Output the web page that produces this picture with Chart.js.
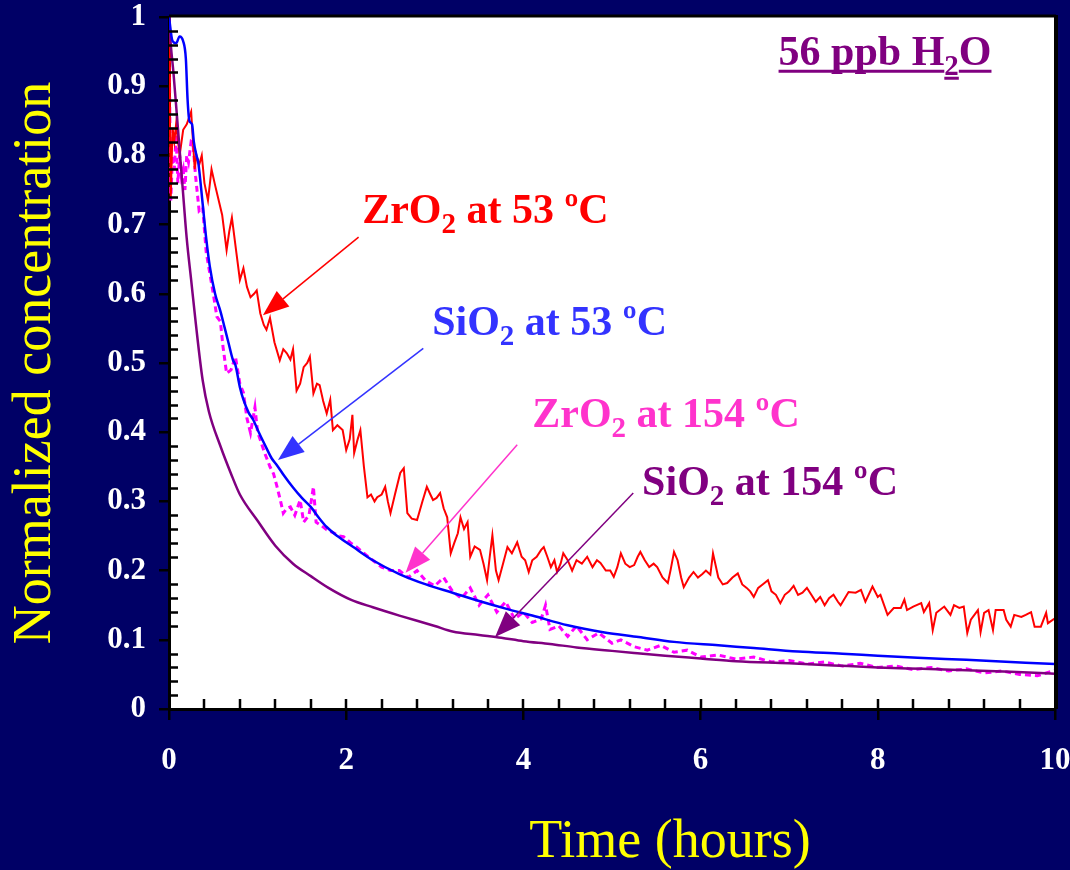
<!DOCTYPE html>
<html>
<head>
<meta charset="utf-8">
<script src="https://cdn.jsdelivr.net/npm/chart.js@4.4.1/dist/chart.umd.min.js"></script>
<style>
  html, body { margin: 0; padding: 0; background: #000066; }
  #wrap { width: 1070px; height: 870px; }
</style>
</head>
<body>
<div id="wrap"><canvas id="chart" width="1070" height="870"></canvas></div>
<script>
// Desorption curves, 56 ppb H2O
const SERIF = '"Liberation Serif", "Times New Roman", serif';

// x axis ticks (hours) and y axis ticks
const xTicks = [0, 2, 4, 6, 8, 10];
const yTicks = [0, 0.1, 0.2, 0.3, 0.4, 0.5, 0.6, 0.7, 0.8, 0.9, 1];

// SiO2 at 53 ºC (blue)
const timeSi53 = [0, 0.04, 0.08, 0.12, 0.16, 0.19, 0.21, 0.23, 0.26, 0.28, 0.31, 0.33, 0.38, 0.42, 0.46, 0.52, 0.58, 0.63, 0.67, 0.72, 0.75, 0.8, 0.84, 0.9, 0.95, 1.02, 1.1, 1.16, 1.22, 1.3, 1.4, 1.5, 1.6, 1.7, 1.78, 1.9, 2.08, 2.3, 2.6, 2.9, 3.2, 3.5, 3.8, 4.1, 4.5, 4.9, 5.3, 5.7, 6.2, 6.6, 7.1, 7.6, 8.0, 8.45, 9.0, 9.5, 10];
const valSi53 = [1.0, 0.965, 0.962, 0.972, 0.965, 0.94, 0.88, 0.85, 0.845, 0.82, 0.80, 0.79, 0.73, 0.68, 0.64, 0.60, 0.575, 0.55, 0.53, 0.505, 0.497, 0.465, 0.447, 0.428, 0.418, 0.398, 0.377, 0.362, 0.352, 0.337, 0.32, 0.305, 0.292, 0.275, 0.263, 0.25, 0.234, 0.215, 0.195, 0.18, 0.168, 0.156, 0.145, 0.135, 0.121, 0.111, 0.104, 0.097, 0.092, 0.088, 0.083, 0.08, 0.077, 0.074, 0.071, 0.068, 0.065];

// SiO2 at 154 ºC (purple)
const timeSi154 = [0, 0.02, 0.05, 0.1, 0.15, 0.2, 0.25, 0.3, 0.38, 0.45, 0.58, 0.7, 0.8, 1.0, 1.2, 1.4, 1.6, 1.8, 2.05, 2.3, 2.6, 3.0, 3.2, 3.5, 3.75, 4.0, 4.3, 4.6, 5.0, 5.25, 5.6, 6.0, 6.4, 7.0, 7.5, 8.0, 8.5, 9.0, 9.5, 10];
const valSi154 = [1.0, 0.96, 0.92, 0.84, 0.76, 0.68, 0.62, 0.56, 0.475, 0.43, 0.38, 0.34, 0.31, 0.272, 0.236, 0.21, 0.192, 0.175, 0.158, 0.147, 0.135, 0.12, 0.112, 0.107, 0.103, 0.098, 0.094, 0.089, 0.084, 0.081, 0.077, 0.073, 0.069, 0.066, 0.063, 0.06, 0.058, 0.056, 0.054, 0.051];

// ZrO2 at 53 ºC (red)
const timeZr53 = [0, 0.01, 0.02, 0.04, 0.06, 0.08, 0.12, 0.16, 0.2, 0.25, 0.29, 0.31, 0.34, 0.37, 0.4, 0.44, 0.48, 0.52, 0.57, 0.6, 0.65, 0.68, 0.71, 0.76, 0.8, 0.84, 0.88, 0.92, 0.96, 0.99, 1.03, 1.07, 1.1, 1.14, 1.19, 1.25, 1.29, 1.33, 1.37, 1.4, 1.44, 1.48, 1.52, 1.56, 1.59, 1.63, 1.67, 1.7, 1.74, 1.78, 1.82, 1.85, 1.9, 1.96, 2.0, 2.04, 2.07, 2.09, 2.13, 2.16, 2.2, 2.24, 2.28, 2.32, 2.35, 2.4, 2.44, 2.47, 2.5, 2.55, 2.61, 2.65, 2.69, 2.74, 2.8, 2.86, 2.91, 2.95, 2.98, 3.02, 3.06, 3.1, 3.14, 3.18, 3.22, 3.26, 3.29, 3.33, 3.37, 3.4, 3.45, 3.51, 3.55, 3.59, 3.62, 3.65, 3.69, 3.72, 3.77, 3.82, 3.87, 3.93, 3.98, 4.02, 4.06, 4.1, 4.15, 4.2, 4.23, 4.27, 4.31, 4.35, 4.38, 4.42, 4.45, 4.5, 4.55, 4.6, 4.66, 4.72, 4.78, 4.83, 4.87, 4.93, 4.98, 5.02, 5.06, 5.1, 5.15, 5.2, 5.25, 5.29, 5.32, 5.37, 5.42, 5.47, 5.51, 5.57, 5.63, 5.66, 5.7, 5.74, 5.78, 5.81, 5.87, 5.92, 5.97, 6.02, 6.06, 6.11, 6.14, 6.2, 6.25, 6.3, 6.36, 6.42, 6.47, 6.52, 6.56, 6.6, 6.65, 6.7, 6.76, 6.8, 6.85, 6.9, 6.95, 7.0, 7.05, 7.1, 7.15, 7.2, 7.25, 7.3, 7.35, 7.4, 7.45, 7.5, 7.55, 7.58, 7.67, 7.75, 7.81, 7.86, 7.94, 8.0, 8.03, 8.11, 8.18, 8.26, 8.3, 8.33, 8.4, 8.49, 8.52, 8.58, 8.62, 8.66, 8.75, 8.82, 8.86, 8.92, 8.97, 9.01, 9.05, 9.13, 9.16, 9.2, 9.25, 9.3, 9.33, 9.42, 9.45, 9.5, 9.54, 9.62, 9.67, 9.73, 9.77, 9.84, 9.9, 9.92, 10];
const valZr53 = [1.0, 0.85, 0.74, 0.84, 0.82, 0.845, 0.80, 0.837, 0.845, 0.863, 0.78, 0.80, 0.786, 0.80, 0.76, 0.735, 0.78, 0.757, 0.73, 0.714, 0.663, 0.69, 0.71, 0.66, 0.62, 0.637, 0.61, 0.595, 0.60, 0.605, 0.572, 0.555, 0.548, 0.565, 0.53, 0.504, 0.52, 0.514, 0.505, 0.52, 0.46, 0.47, 0.494, 0.50, 0.509, 0.456, 0.47, 0.468, 0.445, 0.427, 0.447, 0.403, 0.41, 0.403, 0.374, 0.39, 0.425, 0.37, 0.39, 0.403, 0.35, 0.306, 0.31, 0.30, 0.306, 0.31, 0.321, 0.30, 0.283, 0.31, 0.341, 0.348, 0.283, 0.275, 0.273, 0.30, 0.321, 0.31, 0.302, 0.305, 0.312, 0.29, 0.277, 0.225, 0.24, 0.254, 0.277, 0.26, 0.27, 0.22, 0.235, 0.23, 0.21, 0.186, 0.22, 0.251, 0.20, 0.186, 0.21, 0.234, 0.225, 0.241, 0.22, 0.215, 0.198, 0.215, 0.22, 0.23, 0.234, 0.22, 0.205, 0.215, 0.198, 0.21, 0.225, 0.215, 0.20, 0.215, 0.21, 0.22, 0.205, 0.215, 0.211, 0.20, 0.20, 0.191, 0.205, 0.225, 0.21, 0.205, 0.208, 0.22, 0.227, 0.215, 0.205, 0.21, 0.205, 0.19, 0.182, 0.20, 0.227, 0.215, 0.19, 0.176, 0.19, 0.198, 0.19, 0.195, 0.20, 0.194, 0.225, 0.19, 0.18, 0.182, 0.19, 0.196, 0.18, 0.175, 0.17, 0.162, 0.175, 0.18, 0.186, 0.17, 0.165, 0.153, 0.165, 0.17, 0.178, 0.165, 0.168, 0.175, 0.165, 0.155, 0.162, 0.15, 0.16, 0.165, 0.155, 0.15, 0.169, 0.168, 0.172, 0.155, 0.177, 0.162, 0.165, 0.136, 0.146, 0.146, 0.158, 0.143, 0.148, 0.153, 0.14, 0.153, 0.114, 0.139, 0.148, 0.136, 0.15, 0.146, 0.148, 0.11, 0.129, 0.143, 0.111, 0.139, 0.143, 0.114, 0.143, 0.143, 0.129, 0.119, 0.136, 0.133, 0.136, 0.14, 0.119, 0.119, 0.139, 0.124, 0.131];

// ZrO2 at 154 ºC (magenta, dashed)
const timeZr154 = [0, 0.01, 0.02, 0.04, 0.06, 0.08, 0.1, 0.12, 0.14, 0.16, 0.18, 0.2, 0.22, 0.25, 0.27, 0.3, 0.34, 0.38, 0.42, 0.46, 0.5, 0.54, 0.58, 0.61, 0.65, 0.7, 0.75, 0.8, 0.84, 0.88, 0.92, 0.97, 1.0, 1.03, 1.08, 1.14, 1.18, 1.22, 1.26, 1.29, 1.33, 1.37, 1.42, 1.48, 1.52, 1.58, 1.63, 1.66, 1.72, 1.78, 1.85, 1.92, 1.97, 2.05, 2.12, 2.2, 2.3, 2.4, 2.5, 2.6, 2.7, 2.8, 2.9, 3.0, 3.1, 3.2, 3.3, 3.4, 3.5, 3.6, 3.7, 3.8, 3.9, 4.0, 4.1, 4.2, 4.25, 4.3, 4.4, 4.5, 4.6, 4.72, 4.85, 5.0, 5.1, 5.25, 5.4, 5.55, 5.7, 5.85, 6.0, 6.2, 6.4, 6.6, 6.8, 7.0, 7.2, 7.4, 7.6, 7.8, 8.0, 8.2, 8.4, 8.6, 8.8, 9.0, 9.2, 9.4, 9.6, 9.8, 10];
const valZr154 = [1.0, 0.85, 0.735, 0.80, 0.78, 0.83, 0.76, 0.80, 0.77, 0.78, 0.75, 0.80, 0.79, 0.82, 0.818, 0.77, 0.72, 0.725, 0.66, 0.63, 0.60, 0.567, 0.56, 0.523, 0.485, 0.49, 0.509, 0.47, 0.457, 0.42, 0.399, 0.436, 0.40, 0.389, 0.37, 0.35, 0.34, 0.321, 0.30, 0.283, 0.29, 0.292, 0.28, 0.302, 0.27, 0.28, 0.321, 0.27, 0.265, 0.259, 0.255, 0.25, 0.249, 0.24, 0.234, 0.225, 0.215, 0.205, 0.20, 0.20, 0.19, 0.20, 0.185, 0.178, 0.19, 0.17, 0.16, 0.175, 0.15, 0.165, 0.14, 0.155, 0.13, 0.14, 0.125, 0.13, 0.15, 0.115, 0.12, 0.105, 0.12, 0.10, 0.11, 0.095, 0.10, 0.09, 0.085, 0.092, 0.082, 0.085, 0.075, 0.078, 0.072, 0.075, 0.068, 0.07, 0.065, 0.068, 0.062, 0.066, 0.06, 0.062, 0.057, 0.06, 0.055, 0.058, 0.052, 0.055, 0.05, 0.048, 0.056];

// annotation text with subscript parts: [text, isSubscript]
const notes = [
  { parts: [['ZrO', 0], ['2', 1], [' at 53 ºC', 0]], color: '#FF0000', at: [2.18, 0.702] },
  { parts: [['SiO', 0], ['2', 1], [' at 53 ºC', 0]], color: '#3333FF', at: [2.97, 0.540] },
  { parts: [['ZrO', 0], ['2', 1], [' at 154 ºC', 0]], color: '#FF33CC', at: [4.10, 0.407] },
  { parts: [['SiO', 0], ['2', 1], [' at 154 ºC', 0]], color: '#800080', at: [5.34, 0.309] },
  { parts: [['56 ppb H', 0], ['2', 1], ['O', 0]], color: '#800080', at: [6.88, 0.931], underline: true }
];
const arrows = [
  { from: [2.14, 0.682], to: [1.06, 0.569], color: '#FF0000' },
  { from: [2.87, 0.521], to: [1.23, 0.360], color: '#3333FF' },
  { from: [3.93, 0.382], to: [2.67, 0.197], color: '#FF33CC' },
  { from: [5.24, 0.312], to: [3.68, 0.104], color: '#800080' }
];
const xTitle = 'Time (hours)';

function zip(xs, ys) {
  return xs.map((x, i) => ({ x: x, y: ys[i] }));
}

function drawParts(ctx, parts, x, y, color, underline) {
  let cx = x;
  ctx.fillStyle = color;
  ctx.textAlign = 'left';
  ctx.textBaseline = 'alphabetic';
  parts.forEach(([t, sub]) => {
    ctx.font = (sub ? 'bold 29px ' : 'bold 42px ') + SERIF;
    const dy = sub ? 10 : 0;
    ctx.fillText(t, cx, y + dy);
    const w = ctx.measureText(t).width;
    if (underline) ctx.fillRect(cx, y + dy + (sub ? 2 : 5), w, 3);
    cx += w;
  });
}

function drawArrow(ctx, x1, y1, x2, y2, color) {
  const ang = Math.atan2(y2 - y1, x2 - x1);
  const len = 26, half = 10;
  const bx = x2 - len * Math.cos(ang), by = y2 - len * Math.sin(ang);
  ctx.strokeStyle = color;
  ctx.fillStyle = color;
  ctx.lineWidth = 1.5;
  ctx.beginPath();
  ctx.moveTo(x1, y1);
  ctx.lineTo(bx, by);
  ctx.stroke();
  ctx.beginPath();
  ctx.moveTo(x2, y2);
  ctx.lineTo(bx + half * Math.sin(ang), by - half * Math.cos(ang));
  ctx.lineTo(bx - half * Math.sin(ang), by + half * Math.cos(ang));
  ctx.closePath();
  ctx.fill();
}

const framePlugin = {
  id: 'frame',
  beforeDraw(chart) {
    const { ctx, chartArea: a } = chart;
    ctx.save();
    ctx.fillStyle = '#000066';
    ctx.fillRect(0, 0, chart.width, chart.height);
    ctx.fillStyle = '#FFFFFF';
    ctx.fillRect(a.left, a.top, a.right - a.left, a.bottom - a.top);
    ctx.restore();
  },
  afterDraw(chart) {
    const { ctx, chartArea: a, scales } = chart;
    const xs = scales.x, ys = scales.y;
    ctx.save();
    // top and right frame
    ctx.strokeStyle = '#000000';
    ctx.fillStyle = '#000000';
    ctx.lineWidth = 3;
    ctx.beginPath();
    ctx.moveTo(a.left, a.top - 1);
    ctx.lineTo(a.right + 1, a.top - 1);
    ctx.stroke();
    ctx.fillRect(a.right - 1, a.top - 2, 4, a.bottom - a.top + 2);
    // minor ticks, inside
    ctx.lineWidth = 2.5;
    ctx.beginPath();
    for (let i = 1; i < 50; i++) {
      if (i % 5 === 0) continue;
      const py = Math.round(ys.getPixelForValue(i / 50)) + 0.5;
      ctx.moveTo(a.left, py);
      ctx.lineTo(a.left + 9, py);
    }
    for (let i = 1; i < 25; i++) {
      const px = Math.round(xs.getPixelForValue(i * 0.4));
      ctx.moveTo(px, a.bottom);
      ctx.lineTo(px, a.bottom - 10);
    }
    ctx.stroke();
    // annotations
    arrows.forEach(ar => {
      drawArrow(ctx, xs.getPixelForValue(ar.from[0]), ys.getPixelForValue(ar.from[1]),
        xs.getPixelForValue(ar.to[0]), ys.getPixelForValue(ar.to[1]), ar.color);
    });
    notes.forEach(n => {
      drawParts(ctx, n.parts, xs.getPixelForValue(n.at[0]), ys.getPixelForValue(n.at[1]), n.color, n.underline);
    });
    // x axis title, set right of centre as in the original slide
    ctx.fillStyle = '#FFFF00';
    ctx.font = '54px ' + SERIF;
    ctx.textAlign = 'center';
    ctx.textBaseline = 'alphabetic';
    ctx.fillText(xTitle, 670, 857);
    ctx.restore();
  }
};

const ctx = document.getElementById('chart').getContext('2d');
new Chart(ctx, {
  type: 'line',
  data: {
    datasets: [
      { label: 'SiO2 at 53 ºC', data: zip(timeSi53, valSi53), borderColor: '#0000FF', borderWidth: 2.5, cubicInterpolationMode: 'monotone' },
      { label: 'SiO2 at 154 ºC', data: zip(timeSi154, valSi154), borderColor: '#800080', borderWidth: 2.5, cubicInterpolationMode: 'monotone' },
      { label: 'ZrO2 at 53 ºC', data: zip(timeZr53, valZr53), borderColor: '#FF0000', borderWidth: 2, tension: 0 },
      { label: 'ZrO2 at 154 ºC', data: zip(timeZr154, valZr154), borderColor: '#FF00FF', borderWidth: 3, borderDash: [6, 4], tension: 0 }
    ]
  },
  options: {
    responsive: false,
    animation: false,
    devicePixelRatio: 1,
    layout: { padding: { top: 17, right: 15, left: 0, bottom: 0 } },
    elements: { point: { radius: 0 } },
    plugins: { legend: { display: false }, tooltip: { enabled: false } },
    scales: {
      x: {
        type: 'linear',
        min: 0,
        max: 10,
        afterBuildTicks: s => { s.ticks = xTicks.map(v => ({ value: v })); },
        afterFit: s => { s.height = 161; s.paddingLeft = 0; s.paddingRight = 0; },
        border: { display: true, color: '#000000', width: 3 },
        grid: { display: true, drawOnChartArea: false, drawTicks: true, tickLength: 11, color: '#000000', lineWidth: 2.5 },
        ticks: { color: '#FFFFFF', padding: 22, font: { family: SERIF, size: 31, weight: 'bold' }, maxRotation: 0 },
        title: { display: false, text: xTitle }
      },
      y: {
        type: 'linear',
        min: 0,
        max: 1,
        afterBuildTicks: s => { s.ticks = yTicks.map(v => ({ value: v })); },
        afterFit: s => { s.width = 169; s.paddingTop = 0; s.paddingBottom = 0; },
        border: { display: true, color: '#000000', width: 3 },
        grid: { display: true, drawOnChartArea: false, drawTicks: true, tickLength: 10, color: '#000000', lineWidth: 2.5 },
        ticks: {
          color: '#FFFFFF', padding: 13, font: { family: SERIF, size: 31, weight: 'bold', lineHeight: 1 },
          callback: v => String(Math.round(v * 10) / 10)
        },
        title: { display: true, text: 'Normalized concentration', color: '#FFFF00', padding: { top: 3, bottom: 0 }, font: { family: SERIF, size: 54 } }
      }
    }
  },
  plugins: [framePlugin]
});
</script>
</body>
</html>
